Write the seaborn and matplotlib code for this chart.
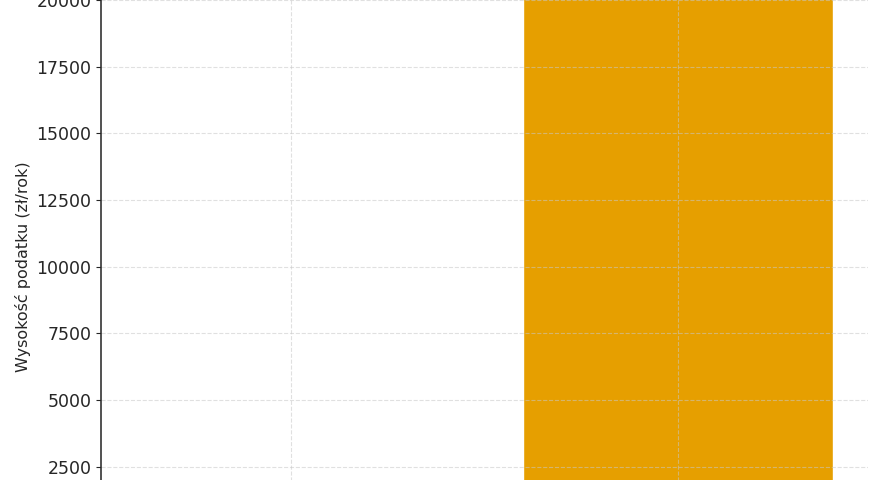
import matplotlib
matplotlib.use("Agg")
import matplotlib.pyplot as plt
import seaborn as sns
from matplotlib.ticker import MultipleLocator

# dane (wykres jest wycinkiem, kategorie poza kadrem)
kategorie = ["Ryczałt", "Skala podatkowa"]
podatek = [1500, 24000]
kolory = ["#56B4E9", "#E69F00"]

sns.set_style("ticks")
fig = plt.figure(figsize=(8.8, 4.8), dpi=100)
# dolna czesc osi wychodzi poza obrazek
ax = fig.add_axes([101/880, -53.6/480, 767/880, 533.6/480])

sns.barplot(x=kategorie, y=podatek, hue=kategorie, palette=kolory,
            width=0.8, saturation=1, legend=False, ax=ax)

ax.set_xlim(-0.49, 1.49)
ax.set_ylim(0, 20000)
ax.yaxis.set_major_locator(MultipleLocator(2500))
ax.grid(True, linestyle='--', color='#c8c8c8', alpha=0.55, linewidth=0.8)
ax.set_axisbelow(False)
ax.set_ylabel("Wysokość podatku (zł/rok)", fontsize=11.5, color='#262626')
ax.set_xlabel("")
ax.tick_params(labelsize=12.5, colors='#262626')
ax.tick_params(axis='x', labelbottom=False)
sns.despine(ax=ax)
ax.spines['left'].set_linewidth(1.2)
ax.spines['left'].set_color('#333333')

fig.savefig("out.png", dpi=100)
